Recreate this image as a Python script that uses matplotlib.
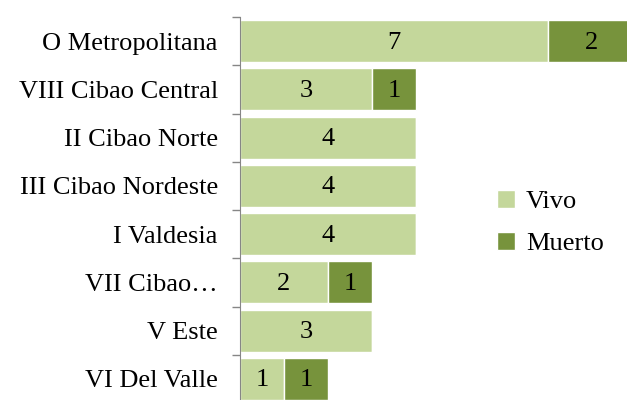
import matplotlib.pyplot as plt
import numpy as np

regiones = ['O Metropolitana', 'VIII Cibao Central', 'II Cibao Norte',
            'III Cibao Nordeste', 'I Valdesia', 'VII Cibao…', 'V Este',
            'VI Del Valle']
vivo = [7, 3, 4, 4, 4, 2, 3, 1]
muerto = [2, 1, 0, 0, 0, 1, 0, 1]

plt.rcParams['font.family'] = ['Liberation Serif', 'DejaVu Serif']

fig = plt.figure(figsize=(6.27, 4.0), dpi=100)
# el área de ejes sale del lienzo por la derecha y por abajo, como en el original
ax = fig.add_axes([240 / 627, -3 / 400, 440 / 627, 386 / 400])

y = np.arange(len(regiones))
c_vivo = '#C4D79B'
c_muerto = '#77933C'
alto = 0.87
fs = 19

b1 = ax.barh(y, vivo, height=alto, color=c_vivo, edgecolor='white', linewidth=1, label='Vivo')
b2 = ax.barh(y, muerto, left=vivo, height=alto, color=c_muerto, edgecolor='white', linewidth=1, label='Muerto')

for i in range(len(regiones)):
    if vivo[i] > 0:
        ax.text(vivo[i] / 2, y[i] + 0.03, str(vivo[i]), ha='center', va='center', fontsize=fs)
    if muerto[i] > 0:
        ax.text(vivo[i] + muerto[i] / 2, y[i] + 0.03, str(muerto[i]), ha='center', va='center', fontsize=fs)

ax.set_xlim(0, 10)
ax.set_ylim(len(regiones) - 0.5, -0.5)
ax.set_yticks(y)
ax.set_yticklabels(regiones, fontsize=fs)
ax.tick_params(axis='y', which='major', length=0, pad=16)
ax.set_yticks(np.arange(len(regiones) + 1) - 0.5, minor=True)
ax.tick_params(axis='y', which='minor', length=6, color='#868686', width=1)
ax.set_xticks([])

for s in ['top', 'right', 'bottom']:
    ax.spines[s].set_visible(False)
ax.spines['left'].set_color('#868686')

fig.legend(handles=[b1, b2], loc='upper left', bbox_to_anchor=(473 / 627, 1 - 166 / 400),
           frameon=False, fontsize=fs, handlelength=0.7, handleheight=0.7,
           labelspacing=0.7, handletextpad=0.4)

plt.savefig('out.png', dpi=100)
